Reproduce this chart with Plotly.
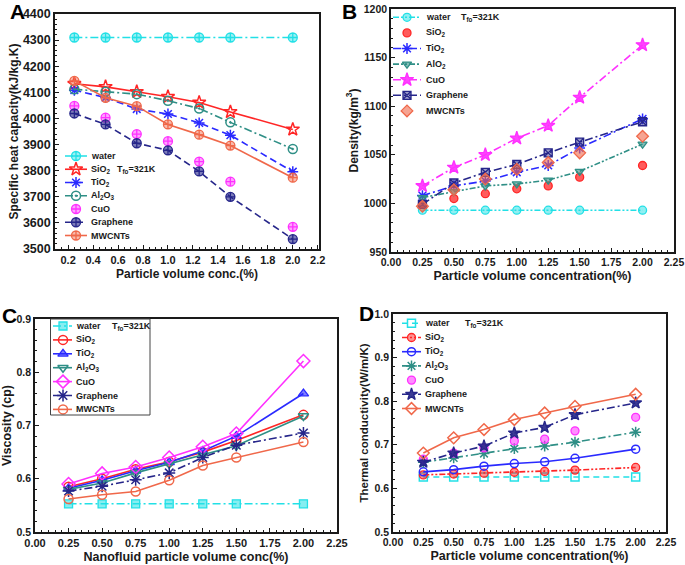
import plotly.graph_objects as go

W, H = 685, 565
FONT = "Liberation Sans, Arial, sans-serif"
INK = "#1a1a1a"

# ---------------- data ----------------
conc = [0.25, 0.5, 0.75, 1.0, 1.25, 1.5, 2.0]

names = ["water", "SiO<sub>2</sub>", "TiO<sub>2</sub>", "Al<sub>2</sub>O<sub>3</sub>",
         "CuO", "Graphene", "MWCNTs"]
names_b = ["water", "SiO<sub>2</sub>", "TiO<sub>2</sub>", "AlO<sub>2</sub>",
           "CuO", "Graphene", "MWCNTs"]

# A: specific heat capacity (kJ/kg.K)
cp_water = [4310, 4310, 4310, 4310, 4310, 4310, 4310]
cp_sio2 = [4133, 4121, 4102, 4083, 4061, 4025, 3958]
cp_tio2 = [4108, 4080, 4036, 4017, 3983, 3936, 3796]
cp_al2o3 = [4112, 4102, 4093, 4068, 4038, 3985, 3883]
cp_cuo = [4048, 4003, 3940, 3913, 3835, 3758, 3585]
cp_graphene = [4019, 3977, 3905, 3878, 3797, 3700, 3538]
cp_mwcnt = [4144, 4079, 4047, 3977, 3938, 3896, 3773]

# B: density (kg/m3)
rho_water = [993, 993, 993, 993, 993, 993, 993]
rho_sio2 = [1000, 1005, 1010, 1015, 1018, 1027, 1039]
rho_tio2 = [1008, 1018, 1023, 1032, 1039, 1057, 1087]
rho_alo2 = [1006, 1012, 1018, 1020, 1024, 1033, 1061]
rho_cuo = [1018, 1037, 1050, 1067, 1080, 1109, 1163]
rho_graphene = [999, 1021, 1032, 1040, 1052, 1063, 1084]
rho_mwcnt = [997, 1014, 1025, 1035, 1042, 1052, 1069]

# C: viscosity (cp)
mu_water = [0.553, 0.553, 0.553, 0.553, 0.553, 0.553, 0.553]
mu_sio2 = [0.585, 0.600, 0.618, 0.632, 0.650, 0.672, 0.720]
mu_tio2 = [0.582, 0.597, 0.615, 0.631, 0.652, 0.680, 0.760]
mu_al2o3 = [0.580, 0.592, 0.611, 0.628, 0.644, 0.662, 0.718]
mu_cuo = [0.590, 0.610, 0.622, 0.640, 0.660, 0.685, 0.821]
mu_graphene = [0.577, 0.586, 0.598, 0.611, 0.640, 0.663, 0.686]
mu_mwcnt = [0.562, 0.570, 0.576, 0.597, 0.625, 0.640, 0.669]

# D: thermal conductivity (W/m/K)
k_water = [0.626, 0.626, 0.626, 0.626, 0.626, 0.626, 0.626]
k_sio2 = [0.631, 0.633, 0.635, 0.637, 0.639, 0.642, 0.648]
k_tio2 = [0.638, 0.643, 0.651, 0.657, 0.661, 0.669, 0.690]
k_al2o3 = [0.660, 0.670, 0.680, 0.691, 0.697, 0.706, 0.729]
k_cuo = [0.667, 0.681, 0.693, 0.709, 0.713, 0.732, 0.763]
k_graphene = [0.660, 0.681, 0.697, 0.727, 0.740, 0.769, 0.796]
k_mwcnt = [0.681, 0.716, 0.735, 0.758, 0.773, 0.788, 0.816]

tfo_label = "T<sub>fo</sub>=321K"

# ---------------- styles ----------------
CY, RD, BL, TL, MG, NV, CO = ("#22e0e6", "#ff2626", "#2a2aff", "#2f8f86",
                              "#ff30ff", "#26268a", "#f0684a")
DDOT = "8px,3px,2px,3px"
DDD = "6px,2px,2px,2px,2px,2px"
DASH = "7px,4px"


def rgba(hexc, a):
    h = hexc.lstrip("#")
    return "rgba(%d,%d,%d,%.2f)" % (int(h[0:2], 16), int(h[2:4], 16), int(h[4:6], 16), a)


# (values, colour, dash or None=markers only, symbol, fill alpha or None=open colour, size)
panelA = [
    (cp_water, CY, DDOT, "circle-cross", 0.45, 9),
    (cp_sio2, RD, "solid", "star-open", None, 10),
    (cp_tio2, BL, DASH, "asterisk-open", None, 9),
    (cp_al2o3, TL, DDOT, "circle-open-dot", None, 9),
    (cp_cuo, MG, None, "circle-cross", 0.45, 9),
    (cp_graphene, NV, DASH, "circle-cross", 0.6, 9),
    (cp_mwcnt, CO, "solid", "circle-cross", 0.45, 9),
]
panelB = [
    (rho_water, CY, DDD, "circle", 0.5, 8),
    (rho_sio2, RD, None, "circle", 0.75, 8),
    (rho_tio2, BL, DDOT, "asterisk-open", None, 9),
    (rho_alo2, TL, DDD, "triangle-down", 0.6, 8),
    (rho_cuo, MG, DDOT, "star", 0.9, 10),
    (rho_graphene, NV, DDOT, "square-x", 0.45, 8),
    (rho_mwcnt, CO, None, "diamond", 0.6, 9),
]
panelC = [
    (mu_water, CY, DDOT, "square", 0.55, 8),
    (mu_sio2, RD, "solid", "circle-open", None, 9),
    (mu_tio2, BL, "solid", "triangle-up", 0.6, 9),
    (mu_al2o3, TL, "solid", "triangle-down-open", None, 9),
    (mu_cuo, MG, "solid", "diamond-open", None, 10),
    (mu_graphene, NV, DDOT, "asterisk-open", None, 10),
    (mu_mwcnt, CO, "solid", "circle-open", None, 9),
]
panelD = [
    (k_water, CY, "6px,4px", "square-open", None, 8),
    (k_sio2, RD, DDD, "circle", 0.5, 8),
    (k_tio2, BL, "solid", "circle-open", None, 8),
    (k_al2o3, TL, DDOT, "asterisk-open", None, 9),
    (k_cuo, MG, None, "circle", 0.55, 8),
    (k_graphene, NV, DDOT, "star", 0.9, 9),
    (k_mwcnt, CO, "solid", "diamond-open", None, 9),
]


def marker(col, sym, alpha, size):
    if alpha is None:
        return dict(symbol=sym, size=size, color=col, line=dict(color=col, width=1.5))
    return dict(symbol=sym, size=size, color=rgba(col, alpha), line=dict(color=col, width=1.3))


fig = go.Figure()


def add_panel(spec, labels, xa, ya):
    for (vals, col, dash, sym, alpha, size), nm in zip(spec, labels):
        fig.add_trace(go.Scatter(
            x=conc, y=vals, name=nm, xaxis=xa, yaxis=ya,
            mode="markers" if dash is None else "lines+markers",
            line=dict(color=col, width=1.6, dash=dash or "solid"),
            marker=marker(col, sym, alpha, size), showlegend=False))


add_panel(panelA, names, "x", "y")
add_panel(panelB, names_b, "x2", "y2")
add_panel(panelC, names, "x3", "y3")
add_panel(panelD, names, "x4", "y4")

# ---------------- legends (drawn on a full-figure pixel axis) ----------------
# (spec, labels, sample x-left, marker x, sample x-right, text x, first row y, row step, Tfo x)
legends = [
    (panelA, names, 65, 76, 87, 89, 156.0, 13.25, 115),
    (panelB, names_b, 393, 407, 421, 424, 17.3, 15.6, 459),
    (panelC, names, 53, 63, 72, 74, 326.0, 13.9, 110),
    (panelD, names, 402, 411.5, 421, 423, 323.3, 14.2, 463),
]
LEG_FONT = dict(family=FONT, size=9, color=INK, weight="bold")
annotations = []
for spec, labels, xl, xm, xr, xt, y0, step, xtfo in legends:
    for i, ((vals, col, dash, sym, alpha, size), nm) in enumerate(zip(spec, labels)):
        yy = y0 + i * step
        if dash is not None:
            fig.add_trace(go.Scatter(
                x=[xl, xr], y=[yy, yy], mode="lines", xaxis="x5", yaxis="y5",
                line=dict(color=col, width=1.6, dash=dash), showlegend=False,
                hoverinfo="skip", cliponaxis=False))
        fig.add_trace(go.Scatter(
            x=[xm], y=[yy], mode="markers", xaxis="x5", yaxis="y5",
            marker=marker(col, sym, alpha, size), showlegend=False,
            hoverinfo="skip", cliponaxis=False))
        annotations.append(dict(
            x=xt, y=yy, xref="x5", yref="y5", text=nm, showarrow=False,
            xanchor="left", yanchor="middle", font=LEG_FONT))
    annotations.append(dict(
        x=xtfo, y=y0 + (step if spec is panelA else 0), xref="x5", yref="y5",
        text=tfo_label, showarrow=False, xanchor="left", yanchor="middle",
        font=LEG_FONT))

# panel letters
for letter, lx, ly in [("A", 8, 11), ("B", 340, 11), ("C", 0, 315), ("D", 357, 313)]:
    annotations.append(dict(
        x=lx, y=ly, xref="x5", yref="y5", text=letter, showarrow=False,
        xanchor="left", yanchor="middle",
        font=dict(family=FONT, size=21, color="#000", weight="bold")))


def px_dom(a, b, total, flip=False):
    if flip:
        return [1 - b / total, 1 - a / total]
    return [a / total, b / total]


def axis(dom, rng, dtick, title, tsize, titsize, standoff, fmt=None, tick0=None, anchor=None):
    d = dict(domain=dom, range=rng, dtick=dtick, showline=True, linecolor=INK,
             linewidth=1.6, mirror=True, ticks="inside", ticklen=4, tickwidth=1.3,
             tickcolor=INK, showgrid=False, zeroline=False, anchor=anchor,
             automargin=False, layer="above traces",
             tickfont=dict(family=FONT, size=tsize, color=INK, weight="bold"),
             minor=dict(ticks="inside", ticklen=2.5, tickwidth=1, tickcolor=INK,
                        showgrid=False),
             title=dict(text=title, standoff=standoff,
                        font=dict(family=FONT, size=titsize, color=INK, weight="bold")))
    if fmt:
        d["tickformat"] = fmt
    if tick0 is not None:
        d["tick0"] = tick0
    return d


layout = dict(
    template="none",
    width=W, height=H, margin=dict(l=0, r=0, t=0, b=0, pad=0, autoexpand=False),
    paper_bgcolor="white", plot_bgcolor="rgba(0,0,0,0)", showlegend=False,
    # A
    xaxis=axis(px_dom(55, 319, W), [0.095, 2.21], 0.2, "Particle volume conc.(%)",
               11, 12, 5, ".1f", 0.2, "y"),
    yaxis=axis(px_dom(14, 249, H, True), [3500, 4400], 100,
               "Specific heat capacity(kJ/kg.K)", 12.5, 12, 2, None, None, "x"),
    # B
    xaxis2=axis(px_dom(391, 674, W), [0, 2.25], 0.25, "Particle volume concentration(%)",
                10.5, 12.5, 4, ".2f", 0, "y2"),
    yaxis2=axis(px_dom(9, 252, H, True), [950, 1200], 50, "Density(kg/m<sup>3</sup>)",
                10.5, 12, 3, None, None, "x2"),
    # C
    xaxis3=axis(px_dom(35, 337, W), [0, 2.25], 0.25, "Nanofluid particle volume conc(%)",
                11, 12.5, 4, ".2f", 0, "y3"),
    yaxis3=axis(px_dom(319, 532, H, True), [0.5, 0.9], 0.1, "Viscosity (cp)",
                10.5, 12.5, 3, ".1f", None, "x3"),
    # D
    xaxis4=axis(px_dom(393, 666, W), [0, 2.25], 0.25, "Particle volume concentration(%)",
                10.5, 12.5, 4, ".2f", 0, "y4"),
    yaxis4=axis(px_dom(314, 532, H, True), [0.5, 1.0], 0.1, "Thermal conductivity(W/m/K)",
                10.5, 11.5, 3, ".1f", None, "x4"),
    # full-figure pixel axis used for legends and labels
    xaxis5=dict(domain=[0, 1], range=[0, W], visible=False, fixedrange=True,
                anchor="y5", automargin=False),
    yaxis5=dict(domain=[0, 1], range=[H, 0], visible=False, fixedrange=True,
                anchor="x5", automargin=False),
    annotations=annotations,
    shapes=[dict(type="rect", xref="x5", yref="y5", x0=50.5, x1=150, y0=319, y1=415,
                 line=dict(color="#444", width=1), fillcolor="rgba(0,0,0,0)")],
)
fig.update_layout(**layout)

fig.write_html("out.html", config={"displayModeBar": False},
               post_script="document.body.style.margin='0';document.body.style.overflow='hidden';")
